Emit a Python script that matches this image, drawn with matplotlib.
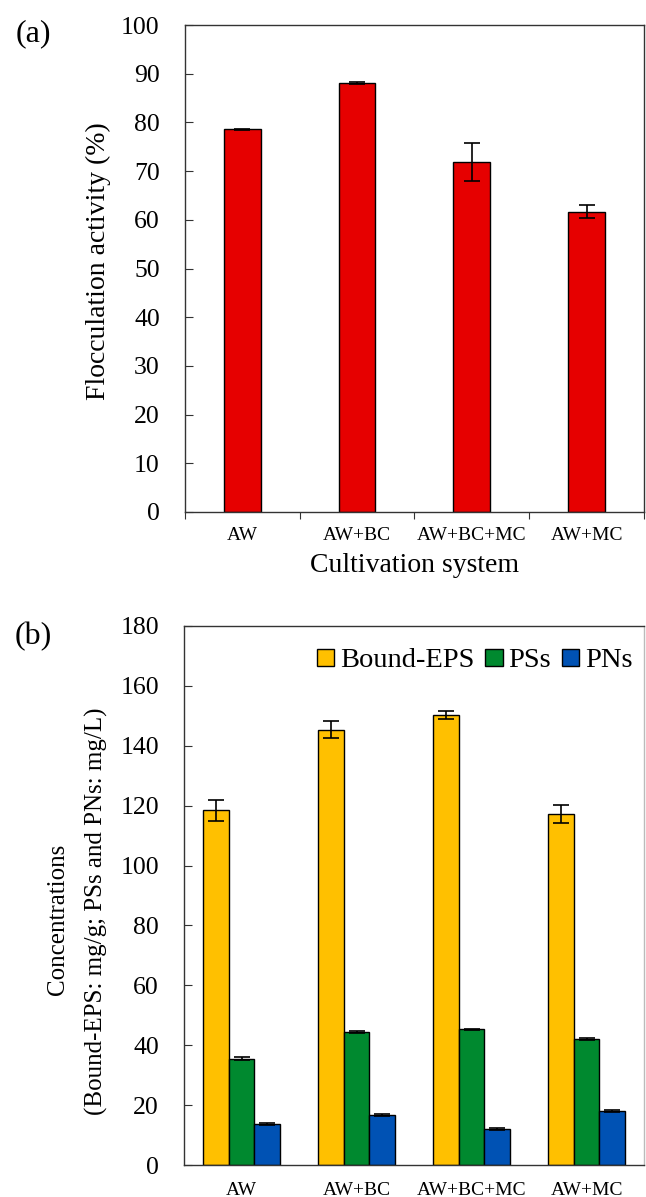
import numpy as np
import matplotlib
matplotlib.use("Agg")
import matplotlib.pyplot as plt

plt.rcParams['font.family'] = ['Liberation Serif', 'DejaVu Serif']

systems = ["AW", "AW+BC", "AW+BC+MC", "AW+MC"]

# (a) flocculation activity
floc = [78.6, 88.0, 71.8, 61.7]
floc_err = [0.1, 0.2, 3.9, 1.3]

# (b) concentrations
bound_eps = [118.4, 145.4, 150.3, 117.2]
bound_eps_err = [3.5, 2.9, 1.3, 3.1]
pss = [35.5, 44.4, 45.3, 42.2]
pss_err = [0.4, 0.3, 0.2, 0.3]
pns = [13.7, 16.8, 12.0, 18.1]
pns_err = [0.4, 0.3, 0.2, 0.4]

RED = "#e60000"
GOLD = "#ffc000"
GREEN = "#00892f"
BLUE = "#0052b4"
SPINE = "#333333"

fig = plt.figure(figsize=(6.46, 11.97), dpi=100)
x = np.arange(len(systems))

# ---------- panel (a) ----------
ax1 = fig.add_axes([0.286, 1 - 512 / 1197, 0.711, 487 / 1197])
ax1.bar(x, floc, width=0.32, color=RED, edgecolor="black", linewidth=1.0,
        yerr=floc_err, capsize=5.5, error_kw=dict(elinewidth=1.2, capthick=1.2, ecolor="black"))
ax1.set_xlim(-0.5, 3.5)
ax1.set_ylim(0, 100)
ax1.set_yticks(np.arange(0, 101, 10))
ax1.tick_params(axis="y", direction="in", length=6, pad=18, labelsize=18.5, color=SPINE)
ax1.set_xticks(np.arange(-0.5, 3.6, 1.0))
ax1.set_xticklabels([])
ax1.tick_params(axis="x", which="major", direction="out", length=5, color=SPINE)
ax1.set_xticks(x, minor=True)
ax1.set_xticklabels(systems, minor=True, fontsize=14)
ax1.tick_params(axis="x", which="minor", length=0, pad=11)
ax1.set_xlabel("Cultivation system", fontsize=20, labelpad=6)
ax1.text(-0.187, 0.515, "Flocculation activity (%)", transform=ax1.transAxes, rotation=90,
         fontsize=20, ha="center", va="center")
for s in ax1.spines.values():
    s.set_color(SPINE)
    s.set_linewidth(1.0)
fig.text(0.051, 1 - 34 / 1197, "(a)", fontsize=23, ha="center", va="center")

# ---------- panel (b) ----------
ax2 = fig.add_axes([0.285, 1 - 1165 / 1197, 0.712, 539 / 1197])
w = 0.223
ek = dict(elinewidth=1.2, capthick=1.2, ecolor="black")
ax2.bar(x - w, bound_eps, width=w, color=GOLD, edgecolor="black", linewidth=1.0,
        yerr=bound_eps_err, capsize=6, error_kw=ek, label="Bound-EPS")
ax2.bar(x, pss, width=w, color=GREEN, edgecolor="black", linewidth=1.0,
        yerr=pss_err, capsize=6, error_kw=ek, label="PSs")
ax2.bar(x + w, pns, width=w, color=BLUE, edgecolor="black", linewidth=1.0,
        yerr=pns_err, capsize=6, error_kw=ek, label="PNs")
ax2.set_xlim(-0.5, 3.5)
ax2.set_ylim(0, 180)
ax2.set_yticks(np.arange(0, 181, 20))
ax2.tick_params(axis="y", direction="in", length=6, pad=18, labelsize=18.5, color=SPINE)
ax2.set_xticks(x)
ax2.set_xticklabels(systems, fontsize=14)
ax2.tick_params(axis="x", length=0, pad=12)
for s in ax2.spines.values():
    s.set_color(SPINE)
    s.set_linewidth(1.0)
ax2.spines["right"].set_color("#bbbbbb")
ax2.text(-0.274, 0.455, "Concentrations", transform=ax2.transAxes, rotation=90,
         fontsize=18, ha="center", va="center")
ax2.text(-0.19, 0.47, "(Bound-EPS: mg/g; PSs and PNs: mg/L)", transform=ax2.transAxes,
         rotation=90, fontsize=18, ha="center", va="center")
ax2.legend(loc="upper right", bbox_to_anchor=(1.012, 0.99), ncol=3, frameon=False,
           fontsize=20.5, handlelength=0.6, handleheight=0.55, handletextpad=0.2,
           columnspacing=0.4, borderaxespad=0.2)
fig.text(0.051, 1 - 637 / 1197, "(b)", fontsize=23, ha="center", va="center")

fig.savefig("out.png", dpi=100)
